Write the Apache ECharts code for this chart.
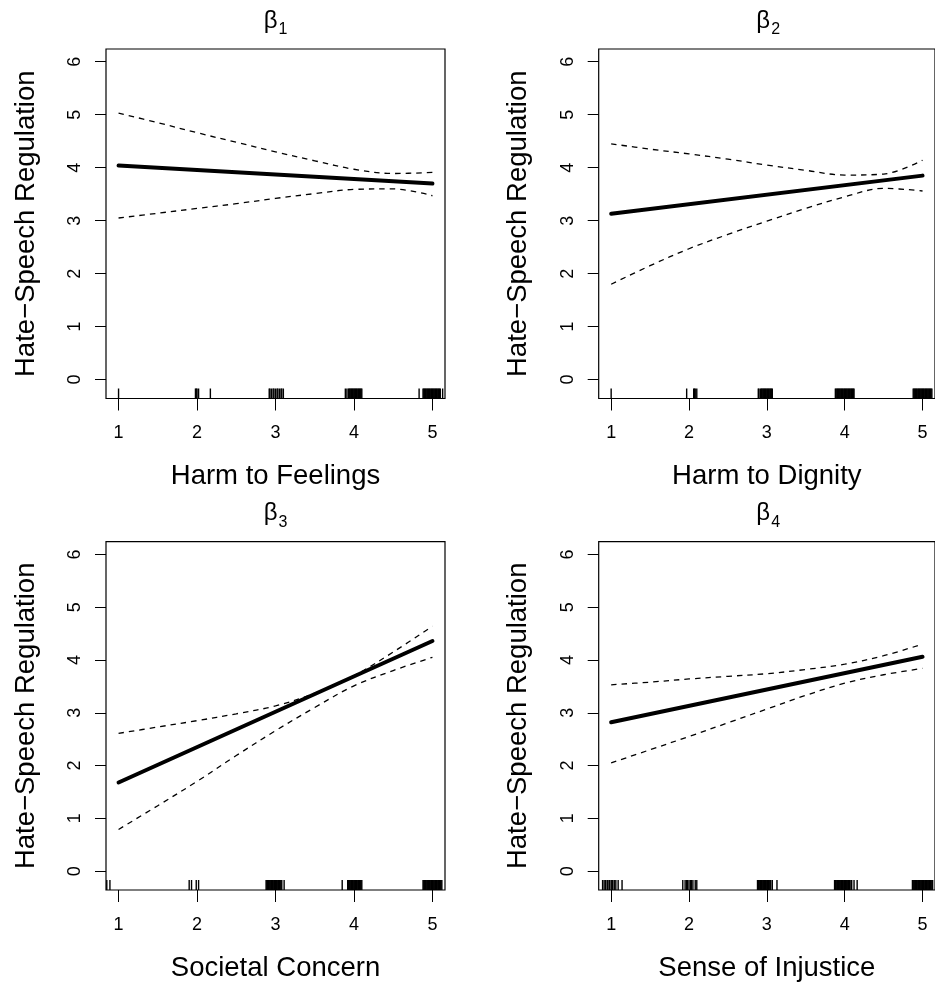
<!DOCTYPE html>
<html><head><meta charset="utf-8">
<script src="https://cdn.jsdelivr.net/npm/echarts@6/dist/echarts.min.js"></script>
<style>html,body{margin:0;padding:0;background:#fff}#c{width:935px;height:983px}</style>
</head><body><div id="c"></div>
<script>
// ---- data ----
const subscripts = ['1', '2', '3', '4'];
const xLabels = ['Harm to Feelings', 'Harm to Dignity', 'Societal Concern', 'Sense of Injustice'];
const yLabel = 'Hate\u2212Speech Regulation';
const xTicks = [1, 2, 3, 4, 5];
const yTicks = [0, 1, 2, 3, 4, 5, 6];
const fitX = [1, 5];
const ciX = [1, 1.5, 2, 2.5, 3, 3.5, 4, 4.5, 5];

const fit1 = [4.04, 3.70];
const upper1 = [5.03, 4.85, 4.66, 4.48, 4.30, 4.13, 3.97, 3.89, 3.91];
const lower1 = [3.05, 3.14, 3.23, 3.32, 3.42, 3.51, 3.59, 3.60, 3.47];

const fit2 = [3.13, 3.85];
const upper2 = [4.45, 4.35, 4.26, 4.16, 4.05, 3.95, 3.86, 3.88, 4.14];
const lower2 = [1.80, 2.15, 2.47, 2.74, 2.99, 3.23, 3.45, 3.61, 3.56];

const fit3 = [1.68, 4.36];
const upper3 = [2.61, 2.73, 2.85, 2.98, 3.13, 3.37, 3.70, 4.15, 4.64];
const lower3 = [0.79, 1.24, 1.70, 2.19, 2.66, 3.10, 3.51, 3.80, 4.05];

const fit4 = [2.82, 4.06];
const upper4 = [3.53, 3.58, 3.64, 3.69, 3.74, 3.82, 3.92, 4.08, 4.30];
const lower4 = [2.05, 2.30, 2.55, 2.81, 3.07, 3.33, 3.56, 3.72, 3.84];

const rug1 = [1.0, 1.98, 1.99, 2.0, 2.02, 2.17,
  2.92, 2.93, 2.95, 2.97, 2.98, 3.0, 3.02, 3.03, 3.05, 3.07, 3.08, 3.10,
  3.89, 3.91, 3.93, 3.94, 3.95, 3.96, 3.97, 3.98, 3.99, 4.0, 4.01, 4.02, 4.03, 4.04, 4.05, 4.06, 4.07, 4.08, 4.09, 4.10,
  4.83, 4.88, 4.89, 4.90, 4.91, 4.92, 4.93, 4.94, 4.95, 4.96, 4.97, 4.98, 4.99, 5.0, 5.01, 5.02, 5.03, 5.04, 5.05,
  5.06, 5.07, 5.08, 5.09, 5.10, 5.13];
const rug2 = [1.0, 1.97, 2.06, 2.07, 2.08, 2.10,
  2.89, 2.90, 2.92, 2.93, 2.94, 2.95, 2.96, 2.97, 2.98, 2.99, 3.0, 3.01, 3.02, 3.03, 3.04, 3.05, 3.06, 3.07,
  3.88, 3.89, 3.90, 3.91, 3.92, 3.93, 3.94, 3.95, 3.96, 3.97, 3.98, 3.99, 4.0, 4.01, 4.02, 4.03, 4.04, 4.05,
  4.06, 4.07, 4.08, 4.09, 4.10, 4.11, 4.12,
  4.88, 4.89, 4.90, 4.91, 4.92, 4.93, 4.94, 4.95, 4.96, 4.97, 4.98, 4.99, 5.0, 5.01, 5.02, 5.03, 5.04, 5.05,
  5.06, 5.07, 5.08, 5.09, 5.10, 5.11, 5.12];
const rug3 = [0.85, 0.89, 1.90, 1.93, 1.99, 2.02,
  2.88, 2.89, 2.90, 2.91, 2.92, 2.93, 2.94, 2.95, 2.96, 2.97, 2.98, 2.99, 3.0, 3.01, 3.02, 3.03, 3.04, 3.05,
  3.06, 3.07, 3.08, 3.11,
  3.85, 3.92, 3.93, 3.94, 3.95, 3.96, 3.97, 3.98, 3.99, 4.0, 4.01, 4.02, 4.03, 4.04, 4.05, 4.06, 4.07, 4.08,
  4.09, 4.10,
  4.88, 4.89, 4.90, 4.91, 4.92, 4.93, 4.94, 4.95, 4.96, 4.97, 4.98, 4.99, 5.0, 5.01, 5.02, 5.03, 5.04, 5.05,
  5.06, 5.07, 5.08, 5.09, 5.10, 5.11, 5.12];
const rug4 = [0.89, 0.91, 0.93, 0.95, 0.96, 0.98, 1.0, 1.01, 1.02, 1.04, 1.06, 1.09, 1.14,
  1.92, 1.95, 1.97, 1.98, 2.0, 2.02, 2.03, 2.05, 2.08, 2.10,
  2.88, 2.89, 2.90, 2.91, 2.92, 2.93, 2.94, 2.95, 2.96, 2.97, 2.98, 2.99, 3.0, 3.01, 3.02, 3.03, 3.04, 3.05,
  3.07, 3.13,
  3.87, 3.88, 3.89, 3.90, 3.91, 3.92, 3.93, 3.94, 3.95, 3.96, 3.97, 3.98, 3.99, 4.0, 4.01, 4.02, 4.03, 4.04,
  4.05, 4.06, 4.07, 4.09, 4.12, 4.16,
  4.87, 4.88, 4.89, 4.90, 4.91, 4.92, 4.93, 4.94, 4.95, 4.96, 4.97, 4.98, 4.99, 5.0, 5.01, 5.02, 5.03, 5.04,
  5.05, 5.06, 5.07, 5.08, 5.09, 5.10, 5.11, 5.12, 5.13];

const fits = [fit1, fit2, fit3, fit4];
const uppers = [upper1, upper2, upper3, upper4];
const lowers = [lower1, lower2, lower3, lower4];
const rugs = [rug1, rug2, rug3, rug4];

// ---- layout ----
const FONT = 'Liberation Sans, Arial, Helvetica, sans-serif';
const gridPos = [
  { left: 106, top: 49 },
  { left: 598.7, top: 49 },
  { left: 106, top: 541.7 },
  { left: 598.7, top: 541.7 }
];
const GW = 339, GH = 349.5;

const grids = [], xAxes = [], yAxes = [], series = [], titles = [];
const zip = (xs, ys) => xs.map((x, i) => [x, ys[i]]);

for (let i = 0; i < 4; i++) {
  const g = gridPos[i];
  grids.push({ left: g.left, top: g.top, width: GW, height: GH, show: true,
    borderColor: '#000', borderWidth: 1.2, backgroundColor: 'transparent', containLabel: false });
  xAxes.push({
    type: 'value', gridIndex: i, min: 0.84, max: 5.16, position: 'bottom',
    axisLine: { show: false, onZero: false },
    splitLine: { show: false },
    axisTick: { show: true, inside: false, length: 12, customValues: xTicks, lineStyle: { color: '#000', width: 1 } },
    axisLabel: { customValues: xTicks, margin: 26, fontSize: 18, color: '#000', fontFamily: FONT },
    name: xLabels[i], nameLocation: 'middle', nameGap: 64,
    nameTextStyle: { fontSize: 27.5, color: '#000', fontFamily: FONT }
  });
  yAxes.push({
    type: 'value', gridIndex: i, min: -0.357, max: 6.24, position: 'left',
    axisLine: { show: false, onZero: false },
    splitLine: { show: false },
    axisTick: { show: true, inside: false, length: 11, customValues: yTicks, lineStyle: { color: '#000', width: 1 } },
    axisLabel: { customValues: yTicks, rotate: 90, margin: 22, fontSize: 18, color: '#000', fontFamily: FONT },
    name: yLabel, nameLocation: 'middle', nameGap: 66,
    nameTextStyle: { fontSize: 27.5, color: '#000', fontFamily: FONT }
  });
  titles.push({
    text: '{b|\u03b2}{s|' + subscripts[i] + '}',
    left: g.left + GW / 2, top: g.top - 40, textAlign: 'center', padding: 0,
    textStyle: {
      fontWeight: 'normal',
      rich: {
        b: { fontSize: 24, lineHeight: 28, verticalAlign: 'top', fontWeight: 'normal', color: '#000', fontFamily: FONT },
        s: { fontSize: 16, lineHeight: 16, verticalAlign: 'top', padding: [13, 0, 0, 1], fontWeight: 'normal', color: '#000', fontFamily: FONT }
      }
    }
  });
  series.push({
    type: 'line', xAxisIndex: i, yAxisIndex: i, data: zip(ciX, uppers[i]), smooth: 0.35,
    showSymbol: false, silent: true, lineStyle: { color: '#000', width: 1.3, type: [5.5, 5] }
  });
  series.push({
    type: 'line', xAxisIndex: i, yAxisIndex: i, data: zip(ciX, lowers[i]), smooth: 0.35,
    showSymbol: false, silent: true, lineStyle: { color: '#000', width: 1.3, type: [5.5, 5] }
  });
  series.push({
    type: 'line', xAxisIndex: i, yAxisIndex: i, data: zip(fitX, fits[i]),
    showSymbol: false, silent: true, lineStyle: { color: '#000', width: 4, cap: 'round' }
  });
  series.push({
    type: 'custom', xAxisIndex: i, yAxisIndex: i, silent: true,
    data: rugs[i].map(v => [v, 0]),
    renderItem: function (params, api) {
      const cs = params.coordSys;
      const x = api.coord([api.value(0), 0])[0];
      const yb = cs.y + cs.height;
      return { type: 'line', shape: { x1: x, y1: yb, x2: x, y2: yb - 10 },
        style: { stroke: '#000', lineWidth: 1.4 } };
    }
  });
}

const chart = echarts.init(document.getElementById('c'), null, { renderer: 'canvas' });
chart.setOption({
  backgroundColor: '#fff',
  animation: false,
  title: titles,
  grid: grids,
  xAxis: xAxes,
  yAxis: yAxes,
  series: series
});
</script></body></html>
